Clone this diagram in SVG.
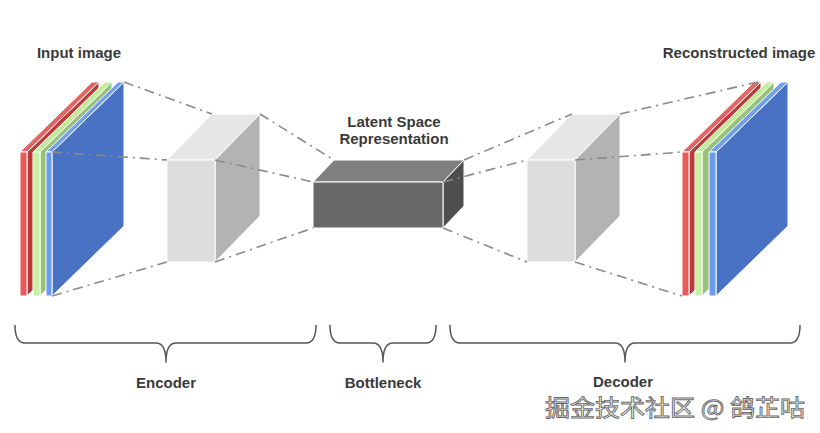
<svg xmlns="http://www.w3.org/2000/svg" width="820" height="433" viewBox="0 0 820 433">
<defs>
<style>
.lbl{font-family:"Liberation Sans",Arial,sans-serif;font-weight:bold;font-size:15px;fill:#3a3a3a;text-anchor:middle}
.face{stroke:#ffffff;stroke-width:1;stroke-linejoin:round}
.dash{fill:none;stroke:#8a8a8a;stroke-width:1.6;stroke-dasharray:10 5 2 5}
.brace{fill:none;stroke:#555;stroke-width:1.5;stroke-linejoin:round}
.rf{fill:#e85a5a}.rt{fill:#e36464}.rs{fill:#b83c3c}
.gf{fill:#c8f0a2}.gt{fill:#c2eb9c}.gs{fill:#96c27a}
.bf{fill:#6b9bef}.bt{fill:#72a0ec}.bs{fill:#4a72c4}
.wf{fill:#dcdcdc}.wt{fill:#e6e6e6}.ws{fill:#b3b3b3}
.kf{fill:#686868}.kt{fill:#808080}.ks{fill:#4e4e4e}
</style>
</defs>
<rect width="820" height="433" fill="#ffffff"/>

<g id="input-image">
  <polygon class="face rs" points="27,152 99,82 99,226 27,296"/>
  <polygon class="face rt" points="20,152 27,152 99,82 92,82"/>
  <rect class="face rf" x="20" y="152" width="7" height="144"/>
  <polygon class="face gs" points="40,152 112,82 112,226 40,296"/>
  <polygon class="face gt" points="33,152 40,152 112,82 105,82"/>
  <rect class="face gf" x="33" y="152" width="7" height="144"/>
  <polygon class="face bs" points="52,152 124,82 124,226 52,296"/>
  <polygon class="face bt" points="46,152 52,152 124,82 118,82"/>
  <rect class="face bf" x="46" y="152" width="6" height="144"/>
</g>

<g id="encoder-block">
  <polygon class="face wt" points="167,160 215,160 260,114 212,114"/>
  <polygon class="face ws" points="215,160 260,114 260,216 215,262"/>
  <rect class="face wf" x="167" y="160" width="48" height="102"/>
</g>

<g id="bottleneck-block">
  <polygon class="face kt" points="313,182 443,182 464,160 334,160"/>
  <polygon class="face ks" points="443,182 464,160 464,206 443,228"/>
  <rect class="face kf" x="313" y="182" width="130" height="46"/>
</g>

<g id="decoder-block">
  <polygon class="face wt" points="527,160 575,160 620,114 572,114"/>
  <polygon class="face ws" points="575,160 620,114 620,216 575,262"/>
  <rect class="face wf" x="527" y="160" width="48" height="102"/>
</g>

<g id="reconstructed-image">
  <polygon class="face rs" points="689,152 761,82 761,226 689,296"/>
  <polygon class="face rt" points="682,152 689,152 761,82 754,82"/>
  <rect class="face rf" x="682" y="152" width="7" height="144"/>
  <polygon class="face gs" points="702,152 774,82 774,226 702,296"/>
  <polygon class="face gt" points="695,152 702,152 774,82 767,82"/>
  <rect class="face gf" x="695" y="152" width="7" height="144"/>
  <polygon class="face bs" points="716,152 788,82 788,226 716,296"/>
  <polygon class="face bt" points="709,152 716,152 788,82 781,82"/>
  <rect class="face bf" x="709" y="152" width="7" height="144"/>
</g>

<g id="connectors">
  <line class="dash" x1="124" y1="82" x2="212" y2="114"/>
  <line class="dash" x1="52" y1="152" x2="167" y2="160"/>
  <line class="dash" x1="52" y1="296" x2="167" y2="262"/>
  <line class="dash" x1="260" y1="114" x2="334" y2="160"/>
  <line class="dash" x1="215" y1="160" x2="313" y2="182"/>
  <line class="dash" x1="215" y1="262" x2="313" y2="228"/>
  <line class="dash" x1="464" y1="160" x2="572" y2="114"/>
  <line class="dash" x1="443" y1="182" x2="527" y2="160"/>
  <line class="dash" x1="443" y1="228" x2="527" y2="262"/>
  <line class="dash" x1="620" y1="114" x2="758" y2="82"/>
  <line class="dash" x1="575" y1="160" x2="682" y2="152"/>
  <line class="dash" x1="575" y1="262" x2="682" y2="296"/>
</g>

<g id="braces">
  <path class="brace" d="M15,325 Q15,343 25,343 L156,343 Q166,343 166,362 Q166,343 176,343 L306,343 Q316,343 316,325"/>
  <path class="brace" d="M330,325 Q330,343 340,343 L373,343 Q383,343 383,362 Q383,343 393,343 L426,343 Q436,343 436,325"/>
  <path class="brace" d="M450,325 Q450,343 460,343 L615,343 Q625,343 625,362 Q625,343 635,343 L790,343 Q800,343 800,325"/>
</g>

<g id="labels">
  <text class="lbl" x="79" y="58">Input image</text>
  <text class="lbl" x="739" y="58">Reconstructed image</text>
  <text class="lbl" x="394" y="127">Latent Space</text>
  <text class="lbl" x="394" y="144">Representation</text>
  <text class="lbl" x="166" y="388">Encoder</text>
  <text class="lbl" x="383" y="388">Bottleneck</text>
  <text class="lbl" x="623" y="387">Decoder</text>
</g>

<g id="watermark">
  <text x="545" y="416" font-family="'Noto Sans CJK SC','Liberation Sans',sans-serif" font-size="23" fill="#ffffff" stroke="#6a6a6a" stroke-width="0.9" textLength="260" lengthAdjust="spacingAndGlyphs">掘金技术社区 @ 鸽芷咕</text>
</g>
</svg>
